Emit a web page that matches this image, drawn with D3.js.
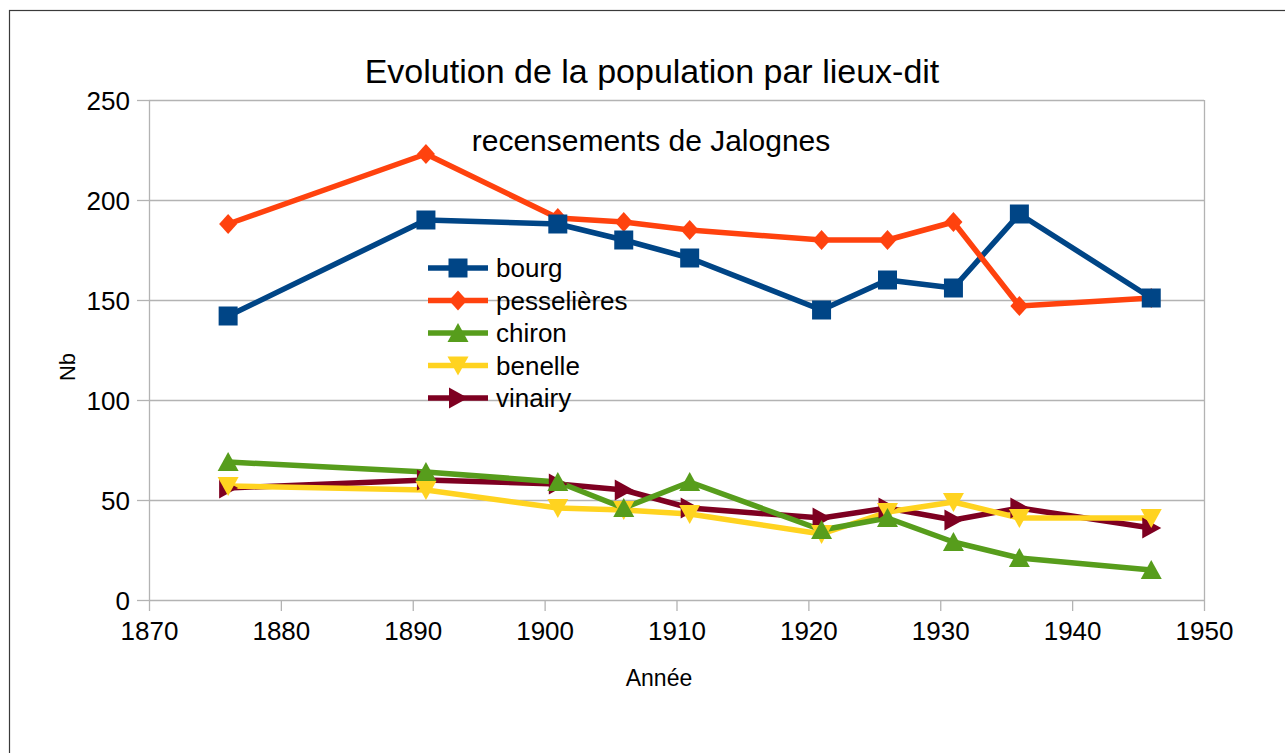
<!DOCTYPE html>
<html>
<head>
<meta charset="utf-8">
<script src="https://cdn.jsdelivr.net/npm/d3@7"></script>
<style>
  body { margin: 0; background: #fff; }
  svg { display: block; font-family: "Liberation Sans", Arial, sans-serif; }
</style>
</head>
<body>
<svg id="chart" width="1285" height="753"></svg>
<script>
// census years and population per hamlet
var years = [1876, 1891, 1901, 1906, 1911, 1921, 1926, 1931, 1936, 1946];
var bourg = [142, 190, 188, 180, 171, 145, 160, 156, 193, 151];
var pesselieres = [188, 223, 191, 189, 185, 180, 180, 189, 147, 151];
var chiron = [69, 64, 59, 46, 59, 35, 41, 29, 21, 15];
var benelle = [57, 55, 46, 45, 43, 33, 44, 49, 41, 41];
var vinairy = [56, 60, 58, 55, 46, 41, 46, 40, 46, 36];
var xTicks = [1870, 1880, 1890, 1900, 1910, 1920, 1930, 1940, 1950];
var yTicks = [0, 50, 100, 150, 200, 250];

var series = [
  {name: 'bourg', values: bourg, color: '#004586', shape: 'square'},
  {name: 'pesselières', values: pesselieres, color: '#ff420e', shape: 'diamond'},
  {name: 'chiron', values: chiron, color: '#579d1c', shape: 'up'},
  {name: 'benelle', values: benelle, color: '#ffd320', shape: 'down'},
  {name: 'vinairy', values: vinairy, color: '#7e0021', shape: 'right'}
];

var svg = d3.select('#chart');
var margin = {left: 149, right: 1204, top: 100, bottom: 600};
var grid = '#b3b3b3';

var x = d3.scaleLinear().domain([1870, 1950]).range([margin.left, margin.right]);
var y = d3.scaleLinear().domain([0, 250]).range([margin.bottom, margin.top]);

// outer frame
svg.append('rect')
  .attr('x', 9.5).attr('y', 10.5)
  .attr('width', 1400).attr('height', 900)
  .attr('fill', 'none').attr('stroke', '#3a3a3a').attr('stroke-width', 1.2);

// horizontal grid
svg.append('g').selectAll('line')
  .data(yTicks.filter(function(d){ return d > 0; }))
  .enter().append('line')
  .attr('x1', margin.left).attr('x2', margin.right)
  .attr('y1', function(d){ return Math.round(y(d)) + 0.5; })
  .attr('y2', function(d){ return Math.round(y(d)) + 0.5; })
  .attr('stroke', grid).attr('stroke-width', 1.3);

// right border of the plot
svg.append('line')
  .attr('x1', margin.right + 0.5).attr('x2', margin.right + 0.5)
  .attr('y1', margin.top).attr('y2', margin.bottom)
  .attr('stroke', grid).attr('stroke-width', 1.3);

var xAxis = d3.axisBottom(x).tickValues(xTicks).tickFormat(d3.format('d'))
  .tickSizeInner(11).tickSizeOuter(0).tickPadding(10);
var yAxis = d3.axisLeft(y).tickValues(yTicks)
  .tickSizeInner(12).tickSizeOuter(0).tickPadding(7);

var gx = svg.append('g')
  .attr('transform', 'translate(0,' + margin.bottom + ')')
  .call(xAxis);
var gy = svg.append('g')
  .attr('transform', 'translate(' + margin.left + ',0)')
  .call(yAxis);

[gx, gy].forEach(function(g){
  g.selectAll('path, line').attr('stroke', grid).attr('stroke-width', 1.3);
  g.selectAll('text').attr('fill', '#000').style('font-size', '26px')
    .style('font-family', '"Liberation Sans", Arial, sans-serif');
});
gy.selectAll('text').attr('dy', '0.36em');
gx.selectAll('text').attr('dy', '0.72em');

// titles
svg.append('text')
  .attr('x', 652).attr('y', 83)
  .attr('text-anchor', 'middle')
  .style('font-size', '34px')
  .text('Evolution de la population par lieux-dit');
svg.append('text')
  .attr('x', 651).attr('y', 151)
  .attr('text-anchor', 'middle')
  .style('font-size', '30px')
  .text('recensements de Jalognes');
svg.append('text')
  .attr('x', 659).attr('y', 686)
  .attr('text-anchor', 'middle')
  .style('font-size', '23px')
  .text('Année');
svg.append('text')
  .attr('transform', 'translate(75,367) rotate(-90)')
  .attr('text-anchor', 'middle')
  .style('font-size', '22px')
  .text('Nb');

// marker shapes
function markerPath(shape){
  var s = 9.5;
  if(shape === 'square') return 'M' + (-s) + ',' + (-s) + 'H' + s + 'V' + s + 'H' + (-s) + 'Z';
  if(shape === 'diamond') return 'M0,-10L9,0L0,10L-9,0Z';
  if(shape === 'up') return 'M0,-10L10.5,9L-10.5,9Z';
  if(shape === 'down') return 'M0,10L10.5,-9L-10.5,-9Z';
  if(shape === 'right') return 'M10,0L-9,10.5L-9,-10.5Z';
}

var line = d3.line()
  .x(function(d, i){ return x(years[i]); })
  .y(function(d){ return y(d); });

var lineOrder = [4, 3, 2, 0, 1];
var markerOrder = [4, 3, 2, 1, 0];

lineOrder.forEach(function(k){
  var s = series[k];
  svg.append('path')
    .datum(s.values)
    .attr('d', line)
    .attr('fill', 'none')
    .attr('stroke', s.color)
    .attr('stroke-width', 5.5)
    .attr('stroke-linejoin', 'round');
});

markerOrder.forEach(function(k){
  var s = series[k];
  svg.append('g').selectAll('path')
    .data(s.values)
    .enter().append('path')
    .attr('transform', function(d, i){ return 'translate(' + x(years[i]) + ',' + y(d) + ')'; })
    .attr('d', markerPath(s.shape))
    .attr('fill', s.color);
});

// legend
var legend = svg.append('g');
var legendY = d3.scalePoint().domain(series.map(function(s){ return s.name; }))
  .range([268, 398]);
series.forEach(function(s){
  var ly = legendY(s.name);
  legend.append('line')
    .attr('x1', 428).attr('x2', 488)
    .attr('y1', ly).attr('y2', ly)
    .attr('stroke', s.color).attr('stroke-width', 5.5);
  legend.append('path')
    .attr('transform', 'translate(458,' + ly + ')')
    .attr('d', markerPath(s.shape))
    .attr('fill', s.color);
  legend.append('text')
    .attr('x', 496).attr('y', ly)
    .attr('dy', '0.35em')
    .style('font-size', '26px')
    .text(s.name);
});
</script>
</body>
</html>
